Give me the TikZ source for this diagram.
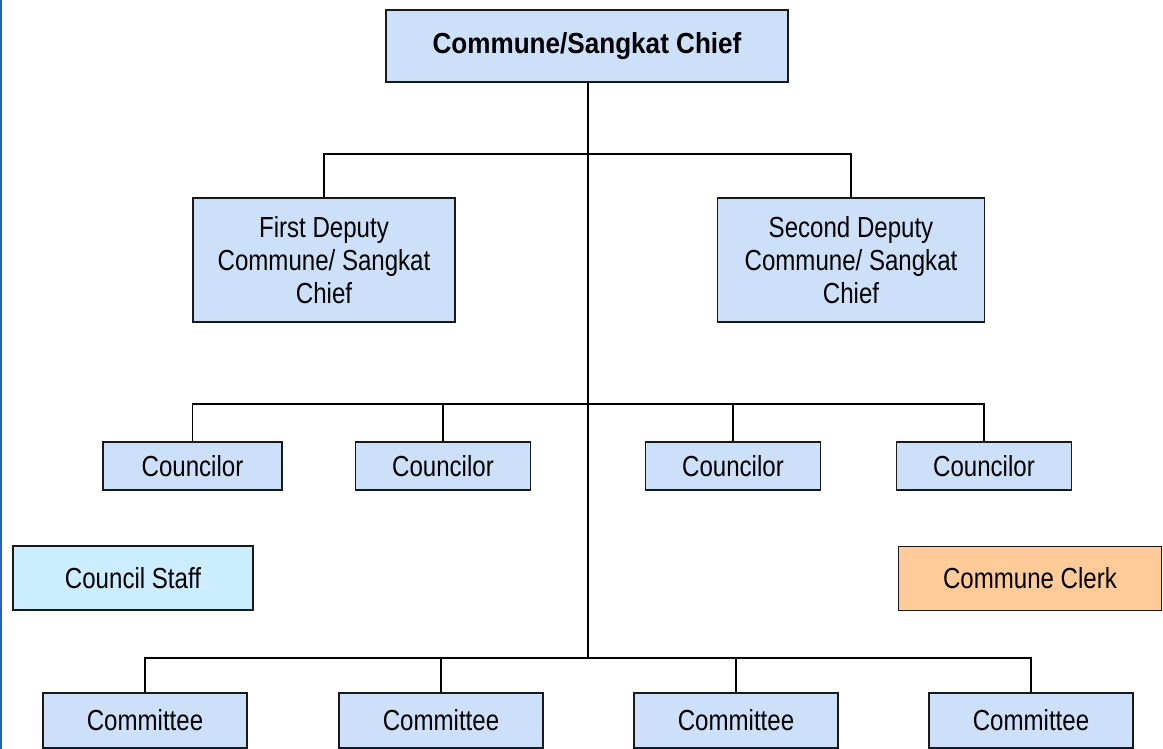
\documentclass[tikz,border=0pt]{standalone}
\usepackage{fontspec}
\setmainfont[FakeStretch=0.83]{Liberation Sans}
\newfontfamily\titlefont[FakeStretch=0.9]{Liberation Sans Bold}
\definecolor{boxblue}{RGB}{204,224,250}
\definecolor{staffblue}{RGB}{204,236,255}
\definecolor{clerkorange}{RGB}{255,204,153}
\definecolor{edgeblue}{RGB}{40,100,190}
\begin{document}
\begin{tikzpicture}[x=1pt,y=-1pt,
  orgbox/.style={draw=black!90,line width=1.6pt,fill=boxblue,inner sep=0pt,align=center,
    font=\fontsize{29}{33}\selectfont},
  conn/.style={draw=black,line width=1.6pt}]
\useasboundingbox (0,0) rectangle (1163,749);
\fill[white] (0,0) rectangle (1163,749);
\draw[edgeblue,line width=2.5pt] (1.2,0) -- (1.2,749);
% nodes
\node[orgbox,minimum width=402pt,minimum height=72pt,font=\titlefont\fontsize{29}{33}\selectfont] (chief) at (587,46) {Commune/Sangkat Chief};
\node[orgbox,minimum width=262pt,minimum height=124pt] (dep1) at (324,260) {First Deputy\\Commune/ Sangkat\\Chief};
\node[orgbox,minimum width=267pt,minimum height=124pt] (dep2) at (851,260) {Second Deputy\\Commune/ Sangkat\\Chief};
\node[orgbox,minimum width=179pt,minimum height=48pt] (c1) at (192.5,466) {Councilor};
\node[orgbox,minimum width=175pt,minimum height=48pt] (c2) at (443,466) {Councilor};
\node[orgbox,minimum width=175pt,minimum height=48pt] (c3) at (733,466) {Councilor};
\node[orgbox,minimum width=175pt,minimum height=48pt] (c4) at (984,466) {Councilor};
\node[orgbox,fill=staffblue,minimum width=240pt,minimum height=64pt] (staff) at (133,578) {Council Staff};
\node[orgbox,fill=clerkorange,minimum width=263pt,minimum height=64pt] (clerk) at (1030,578.5) {Commune Clerk};
\node[orgbox,minimum width=204pt,minimum height=55pt] (m1) at (145,720.5) {Committee};
\node[orgbox,minimum width=204pt,minimum height=55pt] (m2) at (441,720.5) {Committee};
\node[orgbox,minimum width=204pt,minimum height=55pt] (m3) at (736,720.5) {Committee};
\node[orgbox,minimum width=204pt,minimum height=55pt] (m4) at (1031,720.5) {Committee};
% bus coordinates
\coordinate (busD) at (588,154);
\coordinate (busK) at (588,404);
\coordinate (busM) at (588,658);
% connectors
\draw[conn] (chief.south -| busM) -- (busM);
\draw[conn] (dep1.north) |- (busD) -| (dep2.north);
\draw[conn] (c1.north) |- (busK) -| (c4.north);
\draw[conn] (c2.north) -- (c2.north |- busK);
\draw[conn] (c3.north) -- (c3.north |- busK);
\draw[conn] (m1.north) |- (busM) -| (m4.north);
\draw[conn] (m2.north) -- (m2.north |- busM);
\draw[conn] (m3.north) -- (m3.north |- busM);
\end{tikzpicture}
\end{document}
